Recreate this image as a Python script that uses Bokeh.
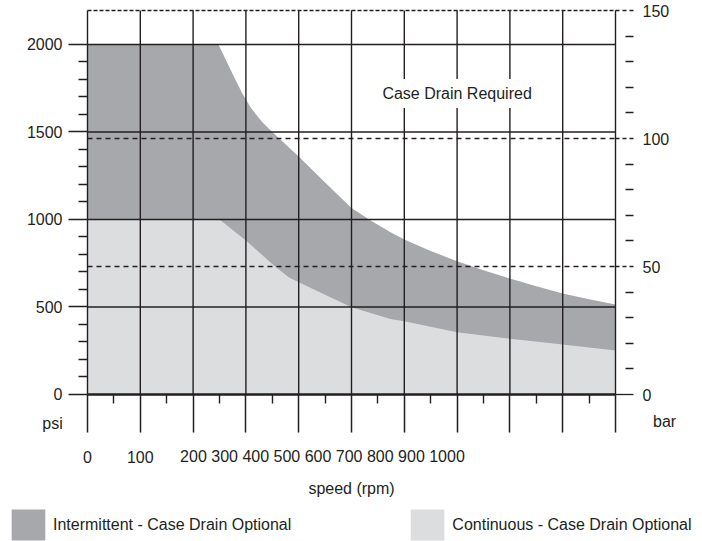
from bokeh.plotting import figure
from bokeh.models import (Range1d, LinearAxis, FixedTicker, Label, Legend, LegendItem)
from bokeh.embed import file_html
from bokeh.resources import INLINE

# ---- data ----
speed_intermittent = [0, 248, 256, 265, 280, 293, 310, 330, 350, 375, 400, 425, 450, 475,
                      500, 537, 574, 600, 650, 700, 750, 800, 850, 900, 950, 1000]
psi_intermittent = [2000, 2000, 1950, 1893, 1800, 1722, 1635, 1560, 1500, 1430, 1360, 1285,
                    1212, 1138, 1065, 993, 927, 886, 820, 762, 710, 663, 618, 577, 544, 514]

speed_continuous = [0, 250, 300, 353, 381, 400, 500, 574, 600, 700, 800, 900, 1000]
psi_continuous = [1000, 1000, 880, 737, 670, 642, 499, 432, 419, 356, 318, 286, 251]

psi_major = [0, 500, 1000, 1500, 2000]
psi_minor = [100, 200, 300, 400, 600, 700, 800, 900, 1100, 1200, 1300, 1400,
             1600, 1700, 1800, 1900]
bar_major = [0, 50, 100, 150]
bar_minor = [10, 20, 30, 40, 60, 70, 80, 90, 110, 120, 130, 140]
rpm_major = [0, 100, 200, 300, 400, 500, 600, 700, 800, 900, 1000]
rpm_minor = [50, 150, 250, 350, 450, 550, 650, 750, 850, 950]
speed_tick_labels = ["0", "100", "200", "300", "400", "500", "600", "700", "800", "900", "1000"]

series_names = ["Intermittent - Case Drain Optional", "Continuous - Case Drain Optional"]
region_label = "Case Drain Required"
x_title = "speed (rpm)"
left_unit = "psi"
right_unit = "bar"

FONT = "Liberation Sans"
INK = "#231f20"
DARK = "#a7a8ab"
LIGHT = "#dcdddf"

# the frame covers the whole canvas; ranges are chosen so the chart area sits
# where it does in the reference (rpm 0..1000, psi 0..2000, bar 0..150)
p = figure(width=702, height=541, output_backend="svg", toolbar_location=None,
           x_range=Range1d(-164.77, 1164.77), y_range=Range1d(-840, 2251.4),
           x_axis_location=None, y_axis_location=None,
           min_border=0, min_border_left=0, min_border_right=0,
           min_border_top=0, min_border_bottom=0)
p.extra_y_ranges = {"bar": Range1d(-57.42, 153.91)}
p.background_fill_color = "white"
p.border_fill_color = "white"
p.outline_line_color = None
p.xgrid.visible = False
p.ygrid.visible = False

# regions
r_dark = p.varea(x=speed_intermittent, y1=0, y2=psi_intermittent, fill_color=DARK)
r_light = p.varea(x=speed_continuous, y1=0, y2=psi_continuous, fill_color=LIGHT)

# grid lines
p.segment(x0=rpm_major, x1=rpm_major, y0=0, y1=bar_major[-1], y_range_name="bar",
          line_color=INK, line_width=1.4)
p.segment(x0=rpm_major[0], x1=rpm_major[-1], y0=psi_major[1:], y1=psi_major[1:],
          line_color=INK, line_width=1.4)
p.segment(x0=rpm_major[0], x1=rpm_major[-1], y0=bar_major[1:3], y1=bar_major[1:3],
          y_range_name="bar", line_color=INK, line_width=1.3, line_dash="5 4")
p.segment(x0=rpm_major[0], x1=rpm_major[-1], y0=bar_major[-1], y1=bar_major[-1],
          y_range_name="bar", line_color=INK, line_width=1.3, line_dash="4 2")
p.segment(x0=rpm_major[0], x1=rpm_major[-1], y0=psi_major[0], y1=psi_major[0],
          line_color=INK, line_width=2.6)


def style_axis(ax):
    ax.axis_line_color = None
    ax.major_tick_line_color = INK
    ax.minor_tick_line_color = INK
    ax.major_tick_line_width = 1.4
    ax.minor_tick_line_width = 1.4
    ax.major_label_text_font = FONT
    ax.major_label_text_font_size = "16px"
    ax.major_label_text_color = INK


# left axis (psi)
yax = LinearAxis(ticker=FixedTicker(ticks=psi_major, minor_ticks=psi_minor), fixed_location=0)
style_axis(yax)
yax.major_tick_in = 0
yax.major_tick_out = 19
yax.minor_tick_in = 0
yax.minor_tick_out = 9
yax.major_label_standoff = 6
p.add_layout(yax, "left")

# right axis (bar): dashed ticks at 50/100/150 plus offset minor ticks
rax = LinearAxis(y_range_name="bar", fixed_location=1000,
                 ticker=FixedTicker(ticks=bar_major[1:], minor_ticks=bar_minor))
style_axis(rax)
rax.major_tick_in = 0
rax.major_tick_out = 18
rax.major_tick_line_width = 1.3
rax.major_tick_line_dash = "4 3"
rax.minor_tick_in = -10
rax.minor_tick_out = 18
rax.major_label_standoff = 9
p.add_layout(rax, "right")

# right axis zero tick (solid)
rax0 = LinearAxis(y_range_name="bar", fixed_location=1000,
                  ticker=FixedTicker(ticks=bar_major[:1], minor_ticks=[]))
style_axis(rax0)
rax0.major_tick_in = 0
rax0.major_tick_out = 18
rax0.major_tick_line_width = 1.3
rax0.major_label_standoff = 9
p.add_layout(rax0, "right")

# bottom axis (speed) - its labels are written separately as in the reference
xax = LinearAxis(ticker=FixedTicker(ticks=rpm_major, minor_ticks=rpm_minor), fixed_location=0,
                 major_label_overrides={v: "" for v in rpm_major})
style_axis(xax)
xax.major_tick_in = 0
xax.major_tick_out = 38
xax.major_tick_line_width = 1.5
xax.minor_tick_in = 0
xax.minor_tick_out = 9
p.add_layout(xax, "below")


def add_label(text, x, y, align="center", **kw):
    lab = Label(x=x, y=y, text=text, text_font=FONT, text_font_size="16px",
                text_color=INK, text_align=align, text_baseline="middle", **kw)
    p.add_layout(lab)
    return lab


# speed tick labels, laid out as in the reference
add_label(speed_tick_labels[0], rpm_major[0], -357)
add_label(speed_tick_labels[1], rpm_major[1], -357)
add_label(" ".join(speed_tick_labels[2:]), rpm_major[2], -357, align="left", x_offset=-13)

add_label(x_title, 500, -537)
add_label(left_unit, -47, -163, align="right")
add_label(right_unit, 1071, -157, align="left")

add_label(region_label, 700, 1720, background_fill_color="white", padding=6)

# legend swatches (area legend glyphs are inset by 10% on each side)
legend = Legend(items=[LegendItem(label=series_names[0], renderers=[r_dark]),
                       LegendItem(label=series_names[1], renderers=[r_light])],
                location=(7, -3), orientation="horizontal",
                glyph_width=42, glyph_height=39, label_standoff=4, spacing=115,
                padding=0, margin=0, border_line_color=None, background_fill_alpha=0,
                label_text_font=FONT, label_text_font_size="16px", label_text_color=INK)
p.add_layout(legend, "center")

open("out.html", "w").write(file_html(p, INLINE))
